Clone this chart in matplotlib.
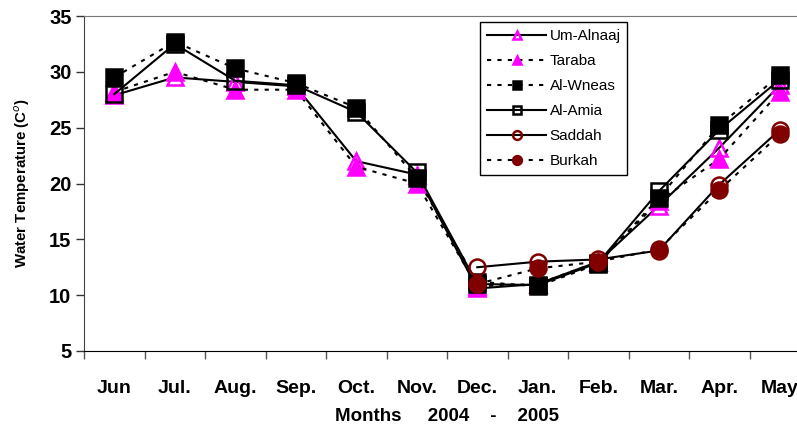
import matplotlib
matplotlib.use("Agg")
import matplotlib.pyplot as plt
import numpy as np

plt.rcParams['font.family'] = ['Liberation Sans', 'DejaVu Sans']

months = ['Jun', 'Jul.', 'Aug.', 'Sep.', 'Oct.', 'Nov.', 'Dec.', 'Jan.', 'Feb.', 'Mar.', 'Apr.', 'May']
nan = np.nan
um_alnaaj = [27.9, 29.5, 29.1, 28.7, 22.0, 20.8, 10.6, 11.0, 13.0, 18.0, 23.2, 28.8]
taraba = [28.2, 30.0, 28.4, 28.4, 21.5, 20.0, 10.8, 11.0, 13.0, 18.4, 22.2, 28.2]
al_wneas = [29.5, 32.7, 30.3, 29.0, 26.8, 20.5, 11.2, 10.8, 12.8, 18.7, 25.2, 29.7]
al_amia = [28.0, 32.5, 29.2, 28.8, 26.4, 21.0, 11.0, 10.9, 12.9, 19.3, 24.8, 29.3]
saddah = [nan, nan, nan, nan, nan, nan, 12.5, 13.0, 13.2, 14.0, 19.9, 24.8]
burkah = [nan, nan, nan, nan, nan, nan, 11.0, 12.4, 13.0, 14.1, 19.4, 24.4]

fig = plt.figure(figsize=(7.97, 4.32), dpi=100)
ax = fig.add_axes([84 / 797, 81 / 432, 726 / 797, 335 / 432])

x = np.arange(len(months))
dot = (0, (2, 3))
ms = 11.5
# open markers are hollow, like the original spreadsheet chart
series = [
    (um_alnaaj, 'Um-Alnaaj', '-', '^', 'none', '#ff00ff'),
    (taraba, 'Taraba', dot, '^', '#ff00ff', '#ff00ff'),
    (al_wneas, 'Al-Wneas', dot, 's', 'black', 'black'),
    (al_amia, 'Al-Amia', '-', 's', 'none', 'black'),
    (saddah, 'Saddah', '-', 'o', 'none', '#800000'),
    (burkah, 'Burkah', dot, 'o', '#800000', '#800000'),
]
for vals, name, ls, mk, fc, ec in series:
    ax.plot(x, vals, color='black', linestyle=ls, linewidth=1.5, marker=mk,
            markersize=ms, markerfacecolor=fc, markeredgecolor=ec,
            markeredgewidth=1.8, label=name)

ax.set_xlim(-0.5, 11.5)
ax.set_ylim(5, 35)
ax.set_yticks(range(5, 36, 5))
ax.set_xticks(np.arange(-0.5, 12, 1))
ax.set_xticklabels([])
ax.set_xticks(x, minor=True)
ax.set_xticklabels(months, minor=True)
ax.tick_params(axis='x', which='minor', length=0, pad=21, labelsize=14)
ax.tick_params(axis='x', which='major', length=6, width=1, color='#555555')
ax.tick_params(axis='y', length=6, width=1, labelsize=14.5, pad=3, color='#333333')
for lab in ax.get_xticklabels(minor=True) + ax.get_yticklabels():
    lab.set_fontweight('bold')

ax.spines['top'].set_color('#777777')
ax.spines['left'].set_color('#444444')
ax.spines['bottom'].set_color('black')
ax.spines['right'].set_visible(False)

ax.set_xlabel('Months     2004    -    2005', fontsize=13.5, fontweight='bold', labelpad=8)
ax.set_ylabel('Water Temperature (C$^{o}$)', fontsize=10.8, fontweight='bold', labelpad=12)

leg = ax.legend(loc='upper left', bbox_to_anchor=((480 - 84) / 726, 1 - 6 / 335),
                borderaxespad=0, fontsize=11, markerscale=0.55, handlelength=3.9,
                labelspacing=0.72, fancybox=False, framealpha=1, edgecolor='black',
                handletextpad=0.2, borderpad=0.45)
leg.get_frame().set_linewidth(1)

fig.savefig('out.png', dpi=100)
